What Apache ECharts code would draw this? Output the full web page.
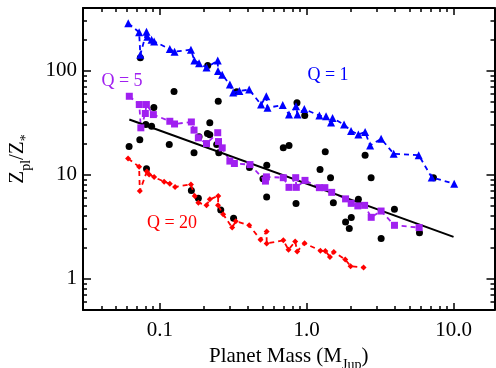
<!DOCTYPE html>
<html>
<head>
<meta charset="utf-8">
<script src="https://cdn.jsdelivr.net/npm/echarts@6/dist/echarts.min.js"></script>
<style>
  html, body { margin: 0; padding: 0; background: #fff; }
  #chart { width: 496px; height: 368px; }
</style>
</head>
<body>
<div id="chart"></div>
<script>
// Q = 1 model (blue triangles)
const q1Mass = [0.0610, 0.0723, 0.0737, 0.0812, 0.0823, 0.0879, 0.0915, 0.117, 0.126, 0.163, 0.172, 0.185,
  0.208, 0.248, 0.249, 0.266, 0.300, 0.316, 0.348, 0.406, 0.489, 0.531, 0.541, 0.687, 0.758, 0.846, 0.866,
  0.964, 1.22, 1.355, 1.466, 1.50, 1.797, 2.006, 2.249, 2.499, 2.703, 3.213, 3.91, 5.79, 7.10, 10.1];
const q1Z = [285, 234, 142, 237, 212, 198, 191, 161, 152, 159, 125, 118,
  107, 125, 99, 91.5, 73.4, 61.5, 63.6, 65.7, 47.2, 56.7, 43.9, 46.7, 37.8, 45.5, 37.8,
  42.7, 37.0, 36.4, 31.7, 35.0, 30.3, 26.3, 24.3, 25.7, 19.1, 22.1, 15.9, 15.4, 9.41, 8.19];

// Q = 5 model (purple squares)
const q5Mass = [0.0620, 0.0725, 0.0743, 0.0797, 0.0810, 0.0904, 0.117, 0.126, 0.164, 0.171, 0.183, 0.208,
  0.248, 0.251, 0.266, 0.300, 0.322, 0.411, 0.524, 0.532, 0.693, 0.758, 0.842, 0.850, 0.974, 1.22, 1.33,
  1.48, 1.84, 2.01, 2.23, 2.48, 2.75, 3.21, 3.96, 5.83];
const q5Z = [56.7, 47.2, 28.2, 38.7, 47.2, 37.8, 32.6, 30.7, 32.1, 26.8, 22.6, 19.9,
  25.3, 20.8, 18.1, 13.5, 12.8, 12.5, 8.67, 9.52, 9.35, 7.55, 9.35, 7.55, 8.81, 7.50, 7.50,
  6.76, 5.85, 5.30, 5.01, 5.07, 3.89, 4.47, 3.26, 3.10];

// Q = 20 model (red)
const q20Mass = [0.0608, 0.0723, 0.0731, 0.0816, 0.0846, 0.0915, 0.107, 0.117, 0.127, 0.163, 0.173, 0.183,
  0.208, 0.219, 0.250, 0.249, 0.270, 0.311, 0.329, 0.406, 0.485, 0.534, 0.534, 0.693, 0.752, 0.835, 0.862,
  0.967, 1.24, 1.34, 1.44, 1.53, 1.83, 1.99, 2.44];
const q20Z = [14.3, 11.9, 6.95, 10.7, 10.06, 9.47, 8.56, 8.19, 7.63, 8.06, 6.23, 5.38,
  5.07, 5.79, 6.25, 5.07, 4.16, 3.10, 3.56, 3.26, 2.37, 2.84, 2.18, 2.34, 1.90, 2.28, 1.83,
  2.19, 1.86, 1.85, 1.62, 1.81, 1.53, 1.32, 1.28];

// observed planets (black dots)
const obsMass = [0.0737, 0.125, 0.212, 0.250, 0.334, 0.0911, 0.0803, 0.0879, 0.0731, 0.0618, 0.116, 0.171,
  0.185, 0.219, 0.211, 0.219, 0.244, 0.252, 0.0812, 0.164, 0.183, 0.260, 0.318, 0.408, 0.859, 0.970,
  0.693, 0.758, 1.338, 2.499, 0.535, 0.504, 1.233, 1.454, 2.746, 7.30, 2.249, 3.958, 3.213, 5.86,
  0.534, 0.846, 1.519, 1.840, 2.012, 1.950];
const obsZ = [133, 62.9, 112, 50.8, 62.5, 44.2, 30.3, 29.2, 21.6, 18.7, 19.5, 16.2,
  23.1, 31.5, 24.9, 24.2, 19.5, 16.2, 11.4, 7.06, 5.92, 4.57, 3.80, 11.7, 49.0, 37.0,
  18.1, 19.1, 16.6, 15.4, 12.3, 9.15, 11.2, 9.35, 9.35, 9.35, 5.79, 4.64, 2.43, 2.77,
  6.09, 5.28, 5.38, 3.51, 3.87, 3.03];

// fitted relation
const fitMass = [0.062, 10];
const fitZ = [33.9, 2.52];

const xMajor = [0.1, 1, 10];
const xMinor = [0.04, 0.05, 0.06, 0.07, 0.08, 0.09, 0.2, 0.3, 0.4, 0.5, 0.6, 0.7, 0.8, 0.9,
  2, 3, 4, 5, 6, 7, 8, 9];
const yMajor = [1, 10, 100];
const yMinor = [0.6, 0.7, 0.8, 0.9, 2, 3, 4, 5, 6, 7, 8, 9, 20, 30, 40, 50, 60, 70, 80, 90, 200, 300];

const pairs = (xs, ys) => xs.map((x, i) => [x, ys[i]]);

const FONT = 'Liberation Serif';
const BLUE = '#0000ff';
const PURPLE = '#a020f0';
const RED = '#ff0000';

const xRange = { type: 'log', min: 0.03, max: 19, logBase: 10, splitLine: { show: false } };
const yRange = { type: 'log', min: 0.5, max: 400, logBase: 10, splitLine: { show: false } };

function axis(base, position, ticks, len, showLine, labels) {
  return Object.assign({}, base, {
    position: position,
    axisLine: { show: showLine, lineStyle: { color: '#000', width: 2 } },
    axisTick: { show: true, inside: true, length: len, customValues: ticks, lineStyle: { color: '#000', width: 1.5 } },
    axisLabel: labels ? labels : { show: false }
  });
}

const chart = echarts.init(document.getElementById('chart'));
chart.setOption({
  animation: false,
  backgroundColor: '#fff',
  grid: { left: 83, right: 1.5, top: 8, bottom: 58, outerBoundsMode: 'none', containLabel: false },
  xAxis: [
    Object.assign(axis(xRange, 'bottom', xMajor, 7, true, {
      show: true, customValues: xMajor, margin: 10,
      fontFamily: FONT, fontSize: 21, color: '#000',
      formatter: v => Number(v).toFixed(1)
    }), {
      name: '{m|Planet Mass (M}{s|Jup}{m|)}',
      nameLocation: 'middle',
      nameGap: 34,
      nameTextStyle: {
        rich: {
          m: { fontFamily: FONT, fontSize: 21, color: '#000', lineHeight: 26, verticalAlign: 'top' },
          s: { fontFamily: FONT, fontSize: 14, color: '#000', lineHeight: 13, verticalAlign: 'bottom' }
        }
      }
    }),
    axis(xRange, 'bottom', xMinor, 4, false),
    axis(xRange, 'top', xMajor, 7, true),
    axis(xRange, 'top', xMinor, 4, false)
  ],
  yAxis: [
    Object.assign(axis(yRange, 'left', yMajor, 8, true, {
      show: true, customValues: yMajor, margin: 6,
      fontFamily: FONT, fontSize: 21, color: '#000'
    }), {
      name: '{m|Z}{s|pl}{m|/Z}{s|*}',
      nameLocation: 'middle',
      nameGap: 50,
      nameTextStyle: {
        rich: {
          m: { fontFamily: FONT, fontSize: 21, color: '#000', lineHeight: 26, verticalAlign: 'top' },
          s: { fontFamily: FONT, fontSize: 14, color: '#000', lineHeight: 13, verticalAlign: 'bottom' }
        }
      }
    }),
    axis(yRange, 'left', yMinor, 4, false),
    axis(yRange, 'right', yMajor, 8, true),
    axis(yRange, 'right', yMinor, 4, false)
  ],
  series: [
    {
      type: 'line', name: 'Q = 1', data: pairs(q1Mass, q1Z),
      symbol: 'triangle', symbolSize: 8,
      itemStyle: { color: BLUE, opacity: 1 },
      lineStyle: { color: BLUE, width: 1.8, type: [5, 4] }
    },
    {
      type: 'line', name: 'Q = 5', data: pairs(q5Mass, q5Z),
      symbol: 'rect', symbolSize: 7,
      itemStyle: { color: PURPLE, opacity: 1 },
      lineStyle: { color: PURPLE, width: 1.8, type: [5, 4] }
    },
    {
      type: 'line', name: 'Q = 20', data: pairs(q20Mass, q20Z),
      symbol: 'diamond', symbolSize: 6,
      itemStyle: { color: RED, opacity: 1 },
      lineStyle: { color: RED, width: 1.8, type: [5, 4] }
    },
    {
      type: 'scatter', name: 'observed', data: pairs(obsMass, obsZ),
      symbol: 'circle', symbolSize: 7,
      itemStyle: { color: '#000', opacity: 1 }
    },
    {
      type: 'line', name: 'fit', data: pairs(fitMass, fitZ),
      symbol: 'none',
      lineStyle: { color: '#000', width: 2 }
    }
  ],
  graphic: [
    { type: 'text', x: 328, y: 75, style: { text: 'Q = 1', fill: BLUE, font: '18px "Liberation Serif"', align: 'center', verticalAlign: 'middle', textAlign: 'center', textVerticalAlign: 'middle' } },
    { type: 'text', x: 122, y: 81, style: { text: 'Q = 5', fill: PURPLE, font: '18px "Liberation Serif"', align: 'center', verticalAlign: 'middle', textAlign: 'center', textVerticalAlign: 'middle' } },
    { type: 'text', x: 172, y: 223, style: { text: 'Q = 20', fill: RED, font: '18px "Liberation Serif"', align: 'center', verticalAlign: 'middle', textAlign: 'center', textVerticalAlign: 'middle' } }
  ]
});
</script>
</body>
</html>
